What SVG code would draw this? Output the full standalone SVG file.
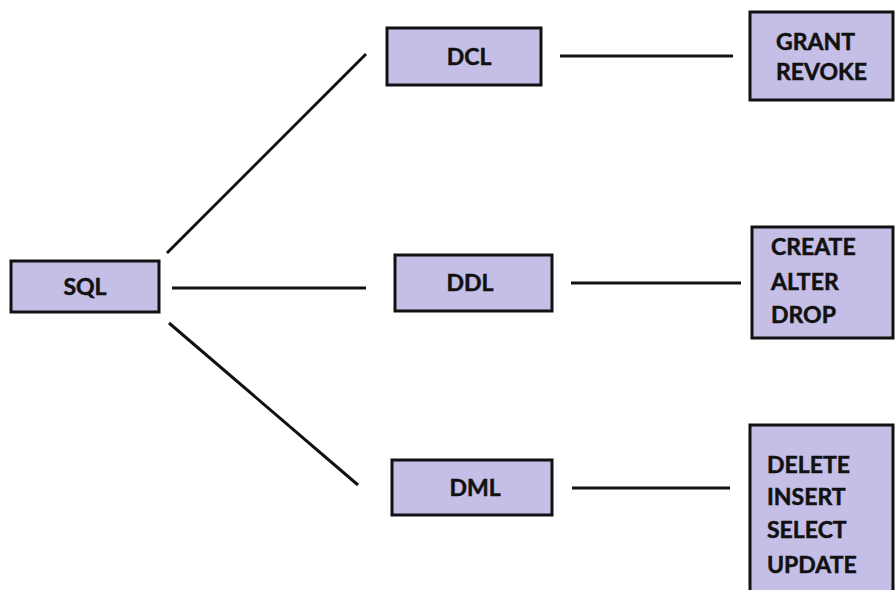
<svg xmlns="http://www.w3.org/2000/svg" width="895" height="590" viewBox="0 0 895 590">
<style>
.box{fill:#c5bee6;stroke:#111;stroke-width:3}
.t{font-family:Lato,"Liberation Sans",Arial,sans-serif;font-weight:bold;font-size:23px;fill:#111;stroke:#111;stroke-width:0.5}
.m{text-anchor:middle}
.c{stroke:#111;stroke-width:3;fill:none}
</style>
<rect width="895" height="590" fill="#fff"/>
<g id="connectors">
<line class="c" x1="167" y1="253" x2="366" y2="54"/>
<line class="c" x1="172" y1="288" x2="366" y2="288"/>
<line class="c" x1="169" y1="323" x2="358" y2="485"/>
<line class="c" x1="560" y1="56" x2="733" y2="56"/>
<line class="c" x1="571" y1="283" x2="741" y2="283"/>
<line class="c" x1="572" y1="488" x2="730" y2="488"/>
</g>
<g id="sql"><rect class="box" x="11" y="261" width="148" height="51"/><text class="t m" x="85" y="295">SQL</text></g>
<g id="dcl"><rect class="box" x="387" y="28" width="154" height="57"/><text class="t m" x="469" y="65">DCL</text></g>
<g id="ddl"><rect class="box" x="395" y="255" width="157" height="56"/><text class="t m" x="470" y="291">DDL</text></g>
<g id="dml"><rect class="box" x="392" y="460" width="160" height="55"/><text class="t m" x="475" y="496">DML</text></g>
<g id="dcl-cmds"><rect class="box" x="750" y="12" width="143" height="88"/><text class="t" x="776" y="50">GRANT</text><text class="t" x="776" y="80">REVOKE</text></g>
<g id="ddl-cmds"><rect class="box" x="752" y="227" width="141" height="111"/><text class="t" x="771" y="255">CREATE</text><text class="t" x="771" y="290">ALTER</text><text class="t" x="771" y="323">DROP</text></g>
<g id="dml-cmds"><rect class="box" x="750" y="425" width="143" height="177"/><text class="t" x="767" y="473">DELETE</text><text class="t" x="767" y="505">INSERT</text><text class="t" x="767" y="538">SELECT</text><text class="t" x="767" y="573">UPDATE</text></g>
</svg>
